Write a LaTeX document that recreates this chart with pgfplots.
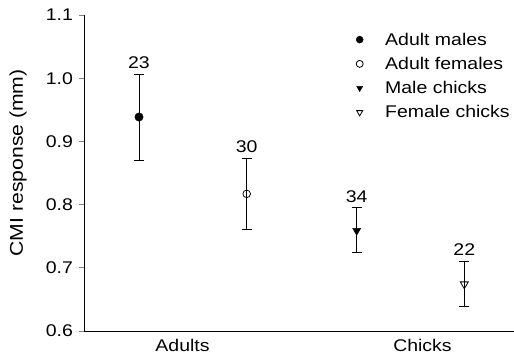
\documentclass[border=0pt]{standalone}
\usepackage{pgfplots}
\pgfplotsset{compat=1.18}
\usepackage{fontspec}
\setmainfont{Liberation Sans}[FakeStretch=1.15]
\begin{document}
\begin{tikzpicture}[font=\fontsize{17}{20}\selectfont]
\begin{axis}[
  name=ax,
  width=430bp, height=316bp, scale only axis,
  xmin=0, xmax=430, ymin=0.6, ymax=1.1,
  axis x line=bottom, axis y line=left,
  axis line style={-, line width=1pt},
  ytick={0.6,0.7,0.8,0.9,1.0,1.1},
  yticklabel style={xshift=-3bp, /pgf/number format/.cd, fixed, fixed zerofill, precision=1},
  /pgf/number format/assume math mode=true,
  xtick={98.5,338.5}, xticklabels={Adults,Chicks},
  x tick style={draw=none},
  xticklabel style={inner sep=0pt, yshift=-4bp},
  y tick style={line width=0.8pt},
  tick align=outside, major tick length=4.5bp,
  ylabel={CMI response (mm)},
  every axis y label/.style={at={(axis description cs:-0.153,0.532)}, anchor=center, rotate=90, font=\fontsize{18.5}{22}\selectfont},
  legend style={draw=none, fill=none, inner sep=0pt, at={(axis cs:272,1.0754)}, anchor=north west,
    row sep=6.5bp, /tikz/every odd column/.append style={column sep=20bp}},
  legend image code/.code={\draw[#1] plot coordinates {(0bp,0bp)};},
  legend image post style={mark size=3.5bp},
  legend cell align=left,
  error bars/y dir=both, error bars/y explicit,
  error bars/error mark options={black, mark size=5bp, rotate=90, line width=0.8pt},
  error bars/error bar style={line width=0.8pt},
]
\addplot[only marks, mark=*, mark size=4.2bp, black] coordinates {(55,0.9386) += (0,0.0677) -= (0,0.0688)};
\addlegendentry{Adult males}
\addplot[only marks, mark=o, mark size=3.8bp, black, mark options={fill=white, line width=0.8pt}] coordinates {(162.7,0.817) += (0,0.0555) -= (0,0.0556)};
\addlegendentry{Adult females}
\addplot[only marks, mark=triangle*, mark size=4.6bp, black, mark options={rotate=180}] coordinates {(272.7,0.7587) += (0,0.0361) -= (0,0.0344)};
\addlegendentry{Male chicks}
\addplot[only marks, mark=triangle, mark size=4.6bp, black, mark options={rotate=180, fill=white, line width=0.8pt}] coordinates {(380.3,0.6741) += (0,0.0359) -= (0,0.0344)};
\addlegendentry{Female chicks}
\node[anchor=south, inner sep=0pt, yshift=5.5bp] at (axis cs:55,1.0063) {23};
\node[anchor=south, inner sep=0pt, yshift=5.5bp] at (axis cs:162.7,0.8725) {30};
\node[anchor=south, inner sep=0pt, yshift=5.5bp] at (axis cs:272.7,0.7948) {34};
\node[anchor=south, inner sep=0pt, yshift=5.5bp] at (axis cs:380.3,0.7100) {22};
\end{axis}
\pgfresetboundingbox
\path ([xshift=-84bp,yshift=-26bp]ax.south west) rectangle ([yshift=15bp]ax.north east);
\end{tikzpicture}
\end{document}
